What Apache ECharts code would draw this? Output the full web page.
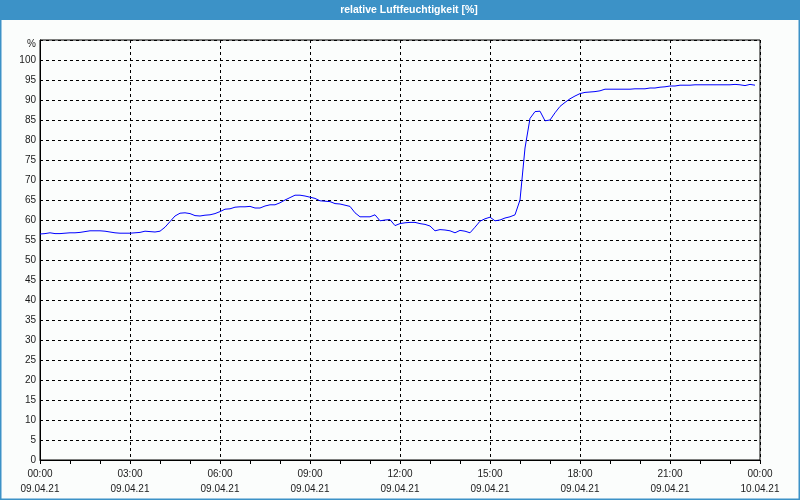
<!DOCTYPE html>
<html>
<head>
<meta charset="utf-8">
<script src="https://cdn.jsdelivr.net/npm/echarts@6/dist/echarts.min.js"></script>
<style>
html,body{margin:0;padding:0;background:#fbfdfc;}
#chart{width:800px;height:500px;}
</style>
</head>
<body>
<div id="chart"></div>
<script>
const chartTitle = 'relative Luftfeuchtigkeit [%]';
const unitLabel = '%';
const startDate = '09.04.21';
const endDate = '10.04.21';
// minutes since 09.04.21 00:00
const minutes = [
  0,10,20,30,40,50,60,70,80,90,100,110,120,130,140,150,160,170,
  180,190,200,210,220,230,240,250,260,270,280,290,300,310,320,330,340,350,
  360,370,380,390,400,410,420,430,440,450,460,470,480,490,500,510,520,530,
  540,550,560,570,580,590,600,610,620,630,640,650,660,670,680,690,700,710,
  720,730,740,750,760,770,780,790,800,810,820,830,840,850,860,870,880,890,
  900,910,920,930,940,950,960,970,980,990,1000,1010,1020,1030,1040,1050,1060,1070,
  1080,1090,1100,1110,1120,1130,1140,1150,1160,1170,1180,1190,1200,1210,1220,1230,1240,1250,
  1260,1270,1280,1290,1300,1310,1320,1330,1340,1350,1360,1370,1380,1390,1400,1410,1420,1430
];
// relative humidity [%]
const humidity = [
  56.5,56.6,56.8,56.6,56.6,56.7,56.8,56.8,56.9,57.1,57.3,57.3,57.3,57.2,57.0,56.8,56.7,56.7,
  56.7,56.8,56.9,57.2,57.1,57.0,57.2,58.2,59.6,61.0,61.7,61.8,61.6,61.1,61.0,61.2,61.3,61.6,
  62.1,62.7,62.8,63.2,63.3,63.3,63.4,63.0,63.0,63.5,63.8,63.8,64.3,65.0,65.6,66.2,66.2,66.0,
  65.7,65.4,64.8,64.7,64.6,64.1,64.0,63.7,63.4,61.8,60.8,60.8,60.8,61.3,59.8,60.0,60.1,58.6,
  59.1,59.3,59.4,59.4,59.1,58.9,58.5,57.3,57.6,57.5,57.3,56.8,57.4,57.2,56.8,58.2,59.7,60.3,
  60.7,59.8,60.0,60.5,60.8,61.3,65.0,78.0,85.4,87.1,87.2,84.8,85.0,86.8,88.4,89.4,90.3,91.0,
  91.6,91.9,92.0,92.1,92.3,92.7,92.7,92.7,92.7,92.7,92.7,92.8,92.8,92.8,93.0,93.0,93.2,93.3,
  93.5,93.5,93.7,93.7,93.7,93.8,93.8,93.8,93.8,93.8,93.8,93.8,93.8,93.9,93.8,93.6,93.9,93.7
];

const seriesData = minutes.map((m, i) => [m, humidity[i]]);
const FONT = 'Liberation Sans';

function fmtTime(v) {
  const h = Math.floor(v / 60) % 24;
  const mm = v % 60;
  const hh = (h < 10 ? '0' : '') + h;
  const ms = (mm < 10 ? '0' : '') + mm;
  return hh + ':' + ms + '\n' + (v >= 1440 ? endDate : startDate);
}

const chart = echarts.init(document.getElementById('chart'), null, {renderer: 'canvas'});
chart.setOption({
  backgroundColor: '#fbfdfc',
  animation: false,
  graphic: [
    {type: 'rect', z: 0, silent: true, shape: {x: 0, y: 0, width: 800, height: 20}, style: {fill: '#3c92c7'}},
    {type: 'rect', z: 0, silent: true, shape: {x: 0.5, y: 0.5, width: 799, height: 499}, style: {fill: null, stroke: '#3c92c7', lineWidth: 2}},
    {type: 'text', z: 10, silent: true, x: 409, y: 10,
      style: {text: chartTitle, fill: '#ffffff', font: 'bold 10.5px "' + FONT + '"', textAlign: 'center', textVerticalAlign: 'middle'}}
  ],
  grid: {left: 40, right: 40, top: 40, bottom: 40, show: true, borderColor: '#000', borderWidth: 1, backgroundColor: 'transparent'},
  xAxis: {
    type: 'value', min: 0, max: 1440, interval: 180,
    axisLine: {show: true, lineStyle: {color: '#000', width: 1}},
    axisTick: {show: true, length: 4, lineStyle: {color: '#000'}},
    minorTick: {show: true, splitNumber: 3, length: 4, lineStyle: {color: '#000'}},
    splitLine: {show: true, lineStyle: {color: '#000', type: [3, 3], width: 1}},
    axisLabel: {formatter: fmtTime, color: '#1a1a1a', fontFamily: FONT, fontSize: 10, lineHeight: 15, margin: 7, showMinLabel: true, showMaxLabel: true}
  },
  yAxis: {
    type: 'value', min: 0, max: 105, interval: 5,
    axisLine: {show: true, lineStyle: {color: '#000', width: 1}},
    axisTick: {show: false},
    splitLine: {show: true, lineStyle: {color: '#000', type: [3, 3], width: 1}},
    axisLabel: {
      formatter: v => (v >= 105 ? '{u|' + unitLabel + '}' : String(v)),
      color: '#1a1a1a', fontFamily: FONT, fontSize: 10, margin: 4,
      rich: {u: {color: '#1a1a1a', fontFamily: FONT, fontSize: 10, padding: [9, 0, 0, 0]}}
    }
  },
  series: [{
    type: 'line', data: seriesData, showSymbol: false, symbol: 'none',
    lineStyle: {color: '#0000ff', width: 1}, z: 5
  }]
});
</script>
</body>
</html>
